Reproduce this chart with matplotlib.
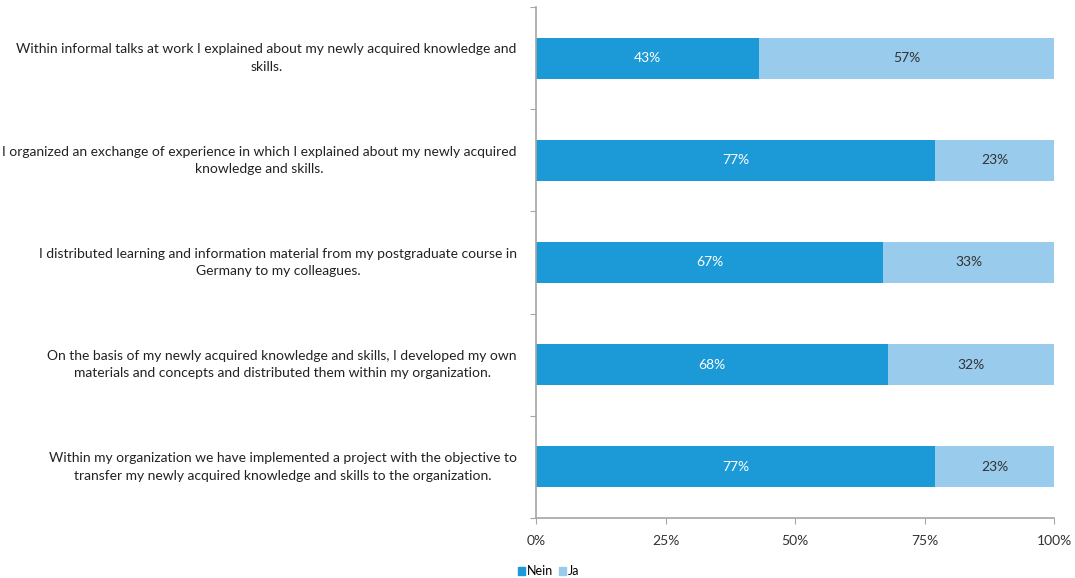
import matplotlib.pyplot as plt
import numpy as np
from matplotlib.patches import Patch

statements = [
    "Within informal talks at work I explained about my newly acquired knowledge and\nskills.",
    "I organized an exchange of experience in which I explained about my newly acquired\nknowledge and skills.",
    "I distributed learning and information material from my postgraduate course in\nGermany to my colleagues.",
    "On the basis of my newly acquired knowledge and skills, I developed my own\nmaterials and concepts and distributed them within my organization.",
    "Within my organization we have implemented a project with the objective to\ntransfer my newly acquired knowledge and skills to the organization.",
]
nein = [43, 77, 67, 68, 77]
ja = [57, 23, 33, 32, 23]
xticks = [0, 25, 50, 75, 100]

c_nein = "#1b9ad7"
c_ja = "#99cbec"
grey = "#a6a6a6"

plt.rcParams["font.family"] = ["Lato", "DejaVu Sans"]

fig = plt.figure(figsize=(10.75, 5.78), dpi=100)
ax = fig.add_axes([0.4986, 0.1038, 0.4819, 0.8841])

y = np.arange(len(statements))
h = 0.4
ax.barh(y, nein, height=h, color=c_nein, edgecolor="none")
ax.barh(y, ja, left=nein, height=h, color=c_ja, edgecolor="none")

for i in range(len(statements)):
    ax.text(nein[i] / 2, y[i], f"{nein[i]}%", ha="center", va="center",
            color="white", fontsize=10)
    ax.text(nein[i] + ja[i] / 2, y[i], f"{ja[i]}%", ha="center", va="center",
            color="#333333", fontsize=10)
    ax.text(-3.7, y[i], statements[i], ha="right", va="center",
            multialignment="center", fontsize=10, color="#222222",
            linespacing=1.55)

ax.set_xlim(0, 100)
ax.set_ylim(len(statements) - 0.5, -0.5)
ax.set_xticks(xticks)
ax.set_xticklabels([f"{t}%" for t in xticks], fontsize=10, color="#333333")
ax.set_yticks(np.arange(-0.5, len(statements), 1.0))
ax.set_yticklabels([])
ax.tick_params(axis="x", length=4, color=grey, pad=8)
ax.tick_params(axis="y", length=4, color=grey)

for side in ["top", "right"]:
    ax.spines[side].set_visible(False)
for side in ["left", "bottom"]:
    ax.spines[side].set_color(grey)
    ax.spines[side].set_linewidth(1.2)

handles = [Patch(color=c_nein, label="Nein"), Patch(color=c_ja, label="Ja")]
fig.legend(handles=handles, loc="center left", bbox_to_anchor=(0.476, 0.012),
           ncol=2, frameon=False, fontsize=9, handlelength=0.6,
           handleheight=0.6, handletextpad=0.15, columnspacing=0.4,
           borderpad=0)

fig.savefig("out.png", dpi=100)
